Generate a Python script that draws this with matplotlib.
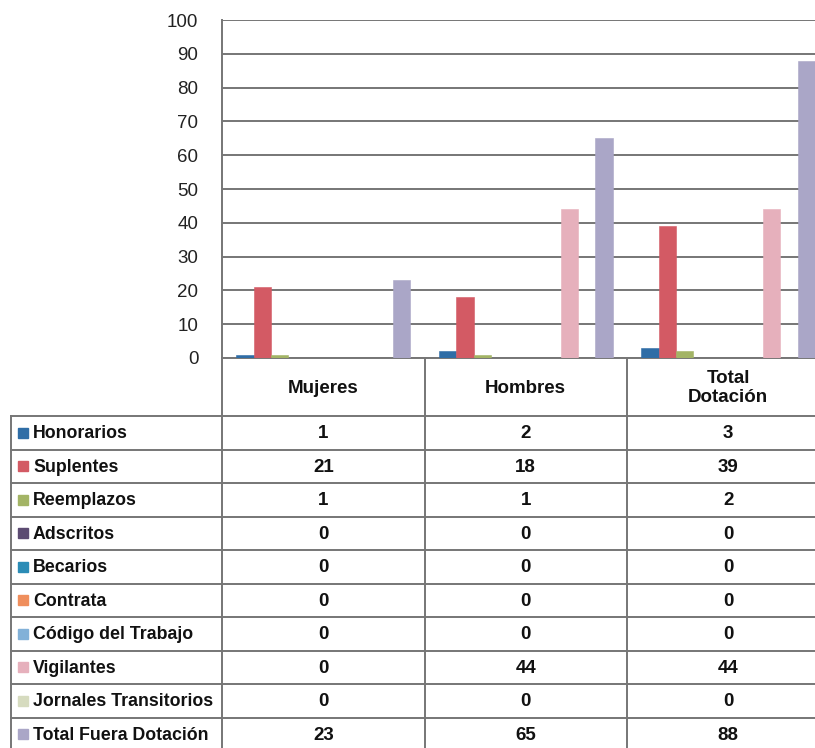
import matplotlib
matplotlib.use("Agg")
import matplotlib.pyplot as plt
from matplotlib.transforms import blended_transform_factory
from matplotlib.patches import Rectangle

# Data
categories = ["Mujeres", "Hombres", "Total\nDotación"]
series_names = [
    "Honorarios", "Suplentes", "Reemplazos", "Adscritos", "Becarios",
    "Contrata", "Código del Trabajo", "Vigilantes", "Jornales Transitorios",
    "Total Fuera Dotación",
]
honorarios = [1, 2, 3]
suplentes = [21, 18, 39]
reemplazos = [1, 1, 2]
adscritos = [0, 0, 0]
becarios = [0, 0, 0]
contrata = [0, 0, 0]
codigo_trabajo = [0, 0, 0]
vigilantes = [0, 44, 44]
jornales = [0, 0, 0]
total_fuera = [23, 65, 88]
series_values = [honorarios, suplentes, reemplazos, adscritos, becarios,
                 contrata, codigo_trabajo, vigilantes, jornales, total_fuera]
y_ticks = [0, 10, 20, 30, 40, 50, 60, 70, 80, 90, 100]

colors = ["#2f6da6", "#d35a64", "#a3b465", "#5c4b72", "#2b8cb6",
          "#ef8e5c", "#82b1d8", "#e6b0bc", "#d6dbbf", "#aaa6c7"]

plt.rcParams["font.family"] = ["Liberation Sans", "DejaVu Sans"]
GRID = "#767676"
TEXT = "#111111"

W, H = 815, 748
fig = plt.figure(figsize=(W / 100, H / 100), dpi=100)

# pixel layout
ax_left, ax_top, ax_bottom = 222, 20, 358
cat_w = 202.5
ax_right = ax_left + 3 * cat_w

# table layer in pixel coordinates
tab = fig.add_axes([0, 0, 1, 1])
tab.set_xlim(0, W)
tab.set_ylim(H, 0)
tab.axis("off")

ax = fig.add_axes([ax_left / W, 1 - ax_bottom / H,
                   (ax_right - ax_left) / W, (ax_bottom - ax_top) / H])
ax.set_facecolor("none")

n = len(series_values)
group = 0.86
bw = group / n
for j, vals in enumerate(series_values):
    xs = [i - group / 2 + (j + 0.5) * bw for i in range(len(categories))]
    ax.bar(xs, vals, width=bw, color=colors[j], edgecolor=colors[j],
           linewidth=0.4, zorder=3)

ax.set_xlim(-0.5, len(categories) - 0.5)
ax.set_ylim(0, 100)
ax.set_yticks(y_ticks)
ax.set_yticklabels([str(t) for t in y_ticks], fontsize=13.5, color="#222222")
ax.tick_params(axis="y", length=0, pad=17)
ax.set_xticks([])
ax.yaxis.grid(True, color=GRID, linewidth=1.4, zorder=0)
for s in ["top", "right", "bottom"]:
    ax.spines[s].set_visible(False)
ax.spines["left"].set_color(GRID)
ax.spines["left"].set_linewidth(1.4)

# Data table under the chart
bt = blended_transform_factory(ax.transData, tab.transData)
row_h = 33.5
header_bottom = 416
table_left = 11
lw = 1.4

for b in [-0.5, 0.5, 1.5, 2.5]:
    tab.plot([b, b], [ax_bottom, H + 10], transform=bt, color=GRID,
             lw=lw, clip_on=False)
tab.plot([-0.5, 2.6], [ax_bottom, ax_bottom], transform=bt, color=GRID, lw=lw)
tab.plot([table_left, table_left], [header_bottom, H + 10], color=GRID, lw=lw)
for k in range(len(series_names) + 1):
    y = header_bottom + k * row_h
    tab.plot([table_left, W + 20], [y, y], color=GRID, lw=lw)

for i, c in enumerate(categories):
    tab.text(i, (ax_bottom + header_bottom) / 2 + 1, c, transform=bt,
             ha="center", va="center", fontsize=13.5, fontweight="bold",
             color=TEXT, linespacing=1.15)

for k, (name, vals) in enumerate(zip(series_names, series_values)):
    yc = header_bottom + (k + 0.5) * row_h
    tab.add_patch(Rectangle((18, yc - 5), 10, 10, color=colors[k]))
    tab.text(33, yc + 1, name, ha="left", va="center", fontsize=12.8,
             fontweight="bold", color=TEXT)
    for i, v in enumerate(vals):
        tab.text(i, yc + 1, str(v), transform=bt, ha="center", va="center",
                 fontsize=13.5, fontweight="bold", color=TEXT)

fig.savefig("out.png", dpi=100, facecolor="white")
